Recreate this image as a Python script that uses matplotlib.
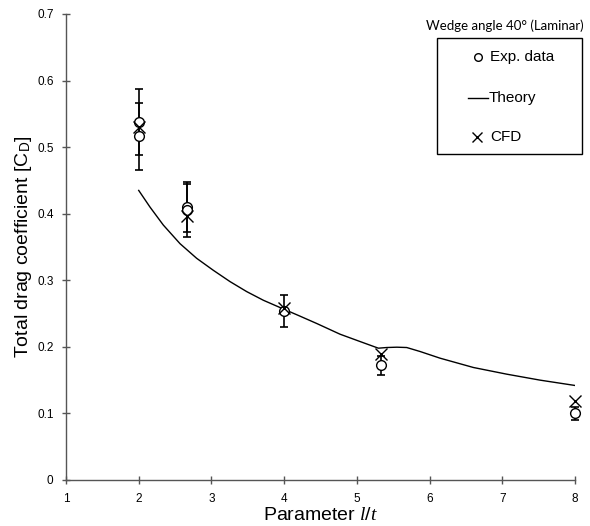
import matplotlib
matplotlib.use("Agg")
import matplotlib.pyplot as plt
from matplotlib.lines import Line2D
from matplotlib.patches import Rectangle

plt.rcParams['font.family'] = ['Liberation Sans', 'DejaVu Sans']
plt.rcParams['mathtext.fontset'] = 'custom'
plt.rcParams['mathtext.rm'] = 'Liberation Sans'
plt.rcParams['mathtext.it'] = 'Liberation Serif:italic'

# Experimental data (two runs at some l/t)
exp_x = [2.0, 2.0, 2.667, 2.667, 4.0, 5.333, 8.0]
exp_y = [0.538, 0.516, 0.410, 0.405, 0.254, 0.172, 0.100]
exp_err = [0.050, 0.050, 0.037, 0.040, 0.024, 0.015, 0.010]

# CFD results
cfd_x = [2.0, 2.667, 4.0, 5.333, 8.0]
cfd_y = [0.530, 0.396, 0.259, 0.190, 0.118]

# Theory curve
theory_x = [2.0, 2.155, 2.338, 2.568, 2.797, 3.026, 3.256, 3.485, 3.714, 3.966,
            4.2, 4.45, 4.769, 5.044, 5.296, 5.41, 5.55, 5.686, 5.87, 6.144,
            6.603, 7.06, 7.52, 8.0]
theory_y = [0.435, 0.410, 0.383, 0.355, 0.333, 0.315, 0.298, 0.283, 0.270, 0.258,
            0.247, 0.235, 0.219, 0.208, 0.198, 0.199, 0.1995, 0.199, 0.193, 0.183,
            0.169, 0.159, 0.150, 0.142]

legend_labels = ['Exp. data', 'Theory', 'CFD']

W, H = 590, 526
fig = plt.figure(figsize=(W/100, H/100), dpi=100)
ax = fig.add_axes([66/W, 1-480/H, (575-66)/W, (480-14)/H])

ax.plot(theory_x, theory_y, color='black', lw=1.0)
ax.errorbar(exp_x, exp_y, yerr=exp_err, fmt='none', ecolor='black', elinewidth=1.2,
            capsize=3, capthick=1.2, clip_on=False)
ax.plot(exp_x, exp_y, 'o', mfc='white', mec='black', ms=7, mew=1.0, ls='none', clip_on=False)
ax.plot(cfd_x, cfd_y, 'x', color='black', ms=8, mew=1.0, ls='none', clip_on=False)

ax.set_xlim(1, 8)
ax.set_ylim(0, 0.7)
ax.set_xticks(range(1, 9))
ax.set_yticks([0, 0.1, 0.2, 0.3, 0.4, 0.5, 0.6, 0.7])
ax.set_yticklabels(['0', '0.1', '0.2', '0.3', '0.4', '0.5', '0.6', '0.7'])
for s in ['top', 'right']:
    ax.spines[s].set_visible(False)
for s in ['left', 'bottom']:
    ax.spines[s].set_color('#555555')
    ax.spines[s].set_linewidth(1.0)
ax.tick_params(direction='inout', length=6, width=1.0, color='#555555', labelsize=8.5, pad=6)

ax.set_xlabel('Parameter $\\mathit{l/t}$', fontsize=14, labelpad=2)
ax.set_ylabel('Total drag coefficient [C$_{\\mathrm{D}}$]', fontsize=14, labelpad=2)

fig.text(584/W, 1-26/H, 'Wedge angle 40° (Laminar)', ha='right', va='center', fontsize=9.5,
         family=['Lato', 'DejaVu Sans'])

# Legend drawn as a framed box
fig.add_artist(Rectangle((437/W, 1-154/H), 145/W, 116/H, transform=fig.transFigure,
                         fill=False, edgecolor='black', lw=1.0))
fig.add_artist(Line2D([478/W], [1-57/H], marker='o', mfc='white', mec='black', ms=5.5,
                      mew=1.0, ls='none', transform=fig.transFigure))
fig.add_artist(Line2D([468/W, 488/W], [1-98/H, 1-98/H], color='black', lw=1.0,
                      transform=fig.transFigure))
fig.add_artist(Line2D([477/W], [1-137/H], marker='x', color='black', ms=6.5,
                      mew=1.0, ls='none', transform=fig.transFigure))
for lab, tx, ty in zip(legend_labels, [490, 489, 490], [57, 98, 137]):
    fig.text(tx/W, 1-ty/H, lab, ha='left', va='center', fontsize=11)

fig.savefig('out.png', dpi=100)
